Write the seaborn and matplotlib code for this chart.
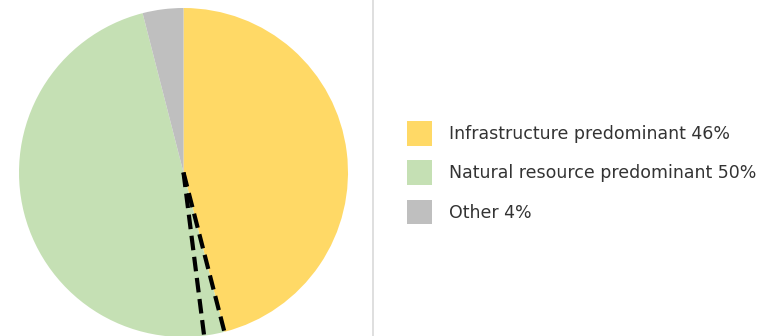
import matplotlib
matplotlib.use("Agg")
import matplotlib.pyplot as plt
import seaborn as sns
import numpy as np
from matplotlib.patches import Patch
from matplotlib.lines import Line2D

categories = ["Infrastructure predominant", "Natural resource predominant", "Other"]
shares = [46, 50, 4]
colors = ["#FFD966", "#C5E0B4", "#BFBFBF"]
legend_labels = [f"{c} {s}%" for c, s in zip(categories, shares)]
# dashed guide lines at these cumulative fractions (clockwise from top)
dashed_fracs = [0.46, 0.48]

sns.set_theme(style="white")
plt.rcParams["font.family"] = ["DejaVu Sans"]

fig = plt.figure(figsize=(7.8, 3.36), dpi=100)
W, H = 780, 336
cx, cy, r = 183.5, 172.5, 164.5
ax = fig.add_axes([(cx - r) / W, (H - cy - r) / H, 2 * r / W, 2 * r / H])
ax.pie(shares, colors=colors, startangle=90, counterclock=False,
       wedgeprops=dict(linewidth=0))
ax.set_xlim(-1, 1)
ax.set_ylim(-1, 1)
ax.set_aspect("equal")
ax.axis("off")

for f in dashed_fracs:
    ang = np.deg2rad(90 - f * 360)
    ln, = ax.plot([0, np.cos(ang)], [0, np.sin(ang)], color="black",
                  linewidth=3.0, solid_capstyle="butt", clip_on=False)
    ln.set_dashes([3.5, 1.6])

fig.add_artist(Line2D([373 / W, 373 / W], [0, 1], color="#d9d9d9", linewidth=1.2))

handles = [Patch(facecolor=c, edgecolor="none") for c in colors]
fig.legend(handles, legend_labels, loc="upper left",
           bbox_to_anchor=(407 / W, 1 - 121 / H), frameon=False,
           fontsize=12.5, handlelength=1.45, handleheight=1.8,
           handletextpad=0.95, labelspacing=0.85, borderpad=0,
           borderaxespad=0, labelcolor="#333333")

fig.savefig("out.png", dpi=100)
